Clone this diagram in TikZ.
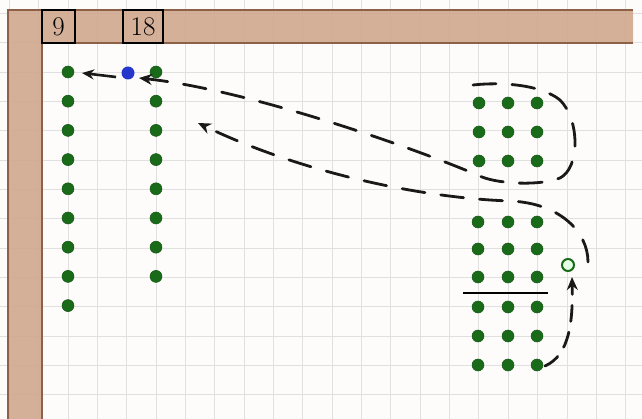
\documentclass[tikz,border=0pt]{standalone}
\usetikzlibrary{arrows.meta}
\definecolor{paper}{rgb}{0.995,0.99,0.985}
\definecolor{gridc}{rgb}{0.88,0.88,0.88}
\definecolor{band}{rgb}{0.82,0.66,0.56}
\definecolor{bandedge}{rgb}{0.55,0.38,0.28}
\definecolor{dotg}{rgb}{0.10,0.42,0.10}
\definecolor{dotb}{rgb}{0.15,0.22,0.80}
\definecolor{ink}{rgb}{0.10,0.10,0.10}
\tikzset{
  gridline/.style={draw=gridc, line width=0.9pt},
  gdot/.style={circle, fill=dotg, draw=dotg!80!black, line width=0.5pt, minimum size=12pt, inner sep=0pt},
  bdot/.style={circle, fill=dotb, minimum size=13pt, inner sep=0pt},
  odot/.style={circle, draw=dotg, fill=green!10!white, line width=2pt, minimum size=12pt, inner sep=0pt},
  numbox/.style={draw=black, line width=1.8pt, inner sep=0pt, font=\fontsize{27}{27}\selectfont},
  dashcon/.style={draw=ink, line width=2.8pt, dash pattern=on 23pt off 16pt, line cap=round},
  tip/.style={-{Stealth[length=13pt,width=11pt]}},
}
\begin{document}
\begin{tikzpicture}[x=1pt,y=-1pt]
\useasboundingbox (0,0) rectangle (642,419);
\fill[paper] (0,0) rectangle (642,419);
% grid
\foreach \k in {-2,...,19} \draw[gridline] ({68+29.35*\k},0) -- ({68+29.35*\k},419);
\foreach \j in {-2,...,11} \draw[gridline] (0,{72+29.35*\j}) -- (642,{72+29.35*\j});
% brown frame
\fill[band, opacity=0.9] (8,10) -- (633,10) -- (633,43) -- (42,43) -- (42,419) -- (8,419) -- cycle;
\draw[bandedge, line width=1.6pt] (633,10) -- (8,10) -- (8,419);
\draw[bandedge, line width=1.8pt] (633,43) -- (42,43) -- (42,419);
% number boxes
\node[numbox, minimum width=33pt, minimum height=33pt] (n9) at (58.5,26.5) {9};
\node[numbox, minimum width=40pt, minimum height=33pt] (n18) at (143,26.5) {18};
% column of 9
\foreach \j in {0,...,8} \node[gdot] (a\j) at (68,{72+29.2*\j}) {};
% column of 18
\foreach \j in {0,...,7} \node[gdot] (b\j) at (156,{72+29.2*\j}) {};
\node[bdot] (blue) at (128,73) {};
% upper group
\foreach \c/\x in {1/479,2/508,3/537}
  \foreach \r/\y in {1/103,2/132,3/161}
    \node[gdot] (u\r\c) at (\x,\y) {};
% lower group
\foreach \c/\x in {1/478,2/508,3/537}
  \foreach \r/\y in {1/222,2/249,3/277,4/307,5/336,6/365}
    \node[gdot] (l\r\c) at (\x,\y) {};
\coordinate (barL) at (463,293);
\coordinate (barR) at (548,293);
\draw[black, line width=2.4pt] (barL) -- (barR);
\node[odot] (open) at (568,265) {};
% connectors
\coordinate (blueS) at (116,77);
\coordinate (aT) at (82,73);
\draw[ink, line width=2.6pt, -{Stealth[length=12pt,width=10pt]}] (blueS) -- (aT);

\coordinate (p1) at (473,85);
\coordinate (p2) at (560,100);
\coordinate (p3) at (560,178);
\coordinate (p4) at (482,177);
\coordinate (t1) at (139,78);
\draw[dashcon, tip] (p1) .. controls (500,82) and (540,84) .. (p2)
   .. controls (580,120) and (580,168) .. (p3)
   .. controls (540,186) and (500,184) .. (p4)
   .. controls (420,150) and (250,90) .. (t1);

\coordinate (q1) at (588,262);
\coordinate (q2) at (510,201);
\coordinate (t2) at (198,123);
\draw[dashcon, tip] (q1) .. controls (588,232) and (560,203) .. (q2)
   .. controls (420,198) and (300,172) .. (t2);

\coordinate (r1) at (545,366);
\coordinate (t3) at (572,277);
\draw[dashcon, dash pattern=on 16pt off 11pt, tip] (r1) .. controls (570,355) and (573,320) .. (t3);
\end{tikzpicture}
\end{document}
